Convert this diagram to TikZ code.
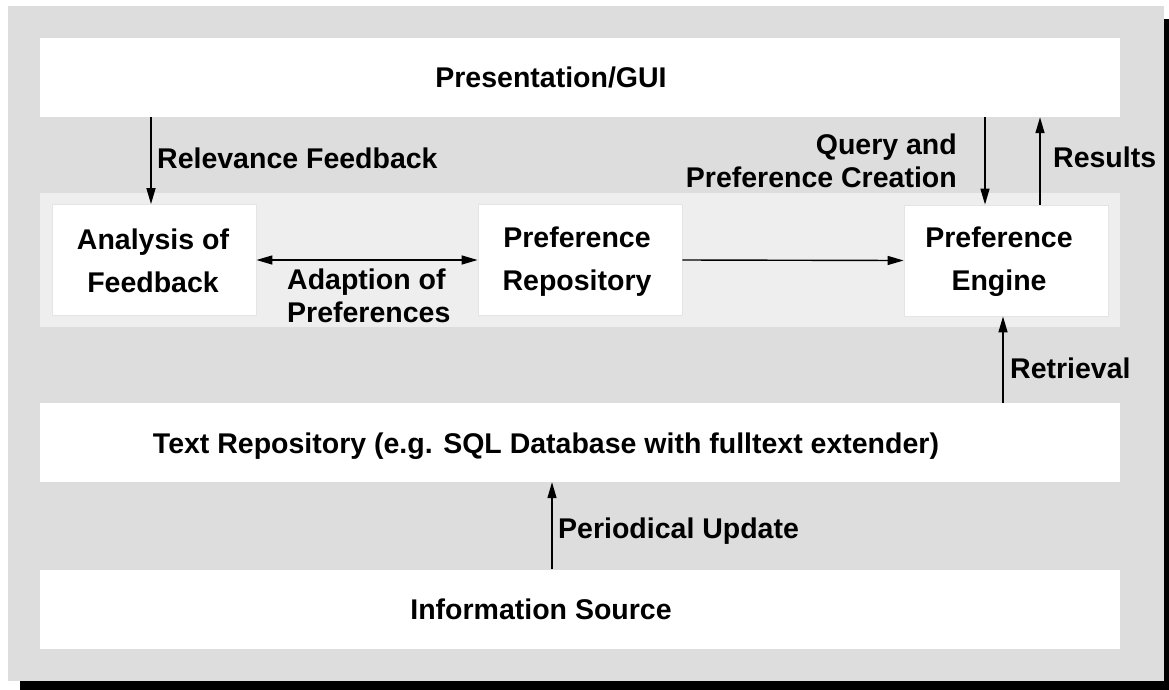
\documentclass[tikz,border=0pt]{standalone}
\usepackage{fontspec}
\setmainfont{Liberation Sans}
\usetikzlibrary{arrows.meta,calc}
\definecolor{panelgrey}{HTML}{DDDDDD}
\definecolor{midgrey}{HTML}{EEEEEE}
\definecolor{boxedge}{HTML}{E4E4E4}
\begin{document}
\begin{tikzpicture}[x=1pt,y=-1pt,
  txt/.style={font=\fontsize{28.5}{43}\selectfont\bfseries, inner sep=0pt, align=center},
  lbl/.style={font=\fontsize{28.5}{33}\selectfont\bfseries, inner sep=0pt},
  wide/.style={fill=white, draw=none, minimum width=1080pt, minimum height=79pt, inner sep=0pt},
  inbox/.style={fill=white, draw=boxedge, line width=0.8pt, minimum width=204pt, minimum height=111pt, inner sep=0pt},
  tip/.tip={Triangle[length=16pt,width=9pt]},
  arr/.style={-tip, line width=1.4pt},
  darr/.style={tip-tip, line width=1.4pt}]
\useasboundingbox (0,0) rectangle (1169,689);
% shadow and panel
\fill[black] (20,19) rectangle (1180,700);
\fill[panelgrey] (8,6) rectangle (1164,681);
% boxes
\node[fill=midgrey, minimum width=1080pt, minimum height=134pt, inner sep=0pt] (mid) at (580,260) {};
\node[wide] (gui) at (580,77.5) {};
\node[wide] (trep) at (580,442.5) {};
\node[wide] (info) at (580,609) {};
\node[inbox] (an) at (154,260) {};
\node[inbox] (pr) at (580,260) {};
\node[inbox] (en) at (1006,260.5) {};
% box texts (base anchor = last line)
\node[txt, anchor=base] (guit) at (551,87) {Presentation/GUI};
\node[txt, anchor=base] (trept) at (546,453) {Text Repository (e.g. SQL Database with fulltext extender)};
\node[txt, anchor=base] (infot) at (541,619) {Information Source};
\node[txt, anchor=base] (ant) at (153,292) {Analysis of\\Feedback};
\node[txt, anchor=base] (prt) at (577,290) {Preference\\Repository};
\node[txt, anchor=base] (ent) at (999,290) {Preference\\Engine};
% connector labels
\node[lbl, anchor=base west] (rfl) at (157,168) {Relevance Feedback};
\node[lbl, anchor=base west, align=left] (apl) at (287,322) {Adaption of\\Preferences};
\node[lbl, anchor=base east, align=right] (qpl) at (957,187) {Query and\\Preference Creation};
\node[lbl, anchor=base west] (rsl) at (1053,167) {Results};
\node[lbl, anchor=base west] (rtl) at (1010,378) {Retrieval};
\node[lbl, anchor=base west] (pul) at (558,538) {Periodical Update};
% x positions of vertical connectors
\coordinate (fx) at (151,0);
\coordinate (qx) at (985,0);
\coordinate (rx) at (1040,0);
\coordinate (tx) at (1003,0);
\coordinate (px) at (552,0);
% connectors
\draw[arr] (gui.south -| fx) -- (an.north -| fx);
\draw[darr] (an.east) -- (pr.west);
\draw[arr] (pr.east) -- (en.west);
\draw[arr] (gui.south -| qx) -- (en.north -| qx);
\draw[arr] (en.north -| rx) -- (gui.south -| rx);
\draw[arr] (trep.north -| tx) -- (en.south -| tx);
\draw[arr] (info.north -| px) -- (trep.south -| px);
\end{tikzpicture}
\end{document}
